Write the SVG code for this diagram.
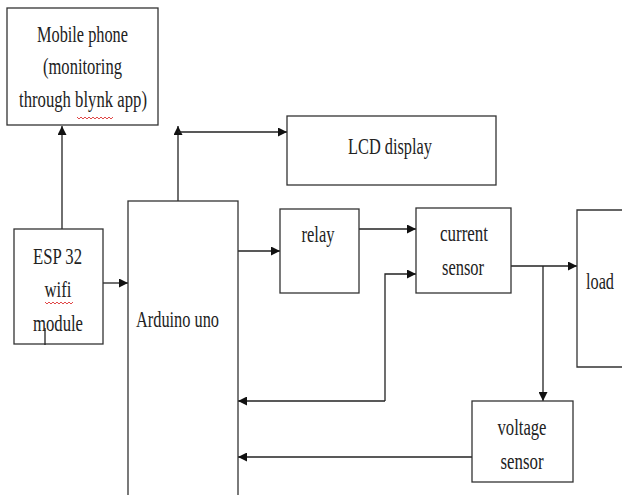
<svg xmlns="http://www.w3.org/2000/svg" width="622" height="495" viewBox="0 0 622 495">
<style>
.box{fill:#fff;stroke:#333;stroke-width:1.3}
.ln{fill:none;stroke:#222;stroke-width:1.3}
.t{font-family:"Liberation Serif","Times New Roman",serif;font-size:24px;fill:#222;text-anchor:middle}
.sq{fill:none;stroke:#d33;stroke-width:0.9}
</style>
<defs>
<marker id="ah" viewBox="0 0 10 10" refX="10" refY="5" markerWidth="9" markerHeight="9" markerUnits="userSpaceOnUse" orient="auto">
<path d="M0,0 L10,5 L0,10 z" fill="#111"/>
</marker>
</defs>
<rect width="622" height="495" fill="#fff"/>
<g id="connectors">
<path class="ln" d="M62,229 V126" marker-end="url(#ah)"/>
<path class="ln" d="M178,201 V126" marker-end="url(#ah)"/>
<path class="ln" d="M178,132 H287" marker-end="url(#ah)"/>
<path class="ln" d="M103,283 H128" marker-end="url(#ah)"/>
<path class="ln" d="M238,251 H280" marker-end="url(#ah)"/>
<path class="ln" d="M359,229 H416" marker-end="url(#ah)"/>
<path class="ln" d="M511,266 H577" marker-end="url(#ah)"/>
<path class="ln" d="M543,266 V401" marker-end="url(#ah)"/>
<path class="ln" d="M385,401 V274 H416" marker-end="url(#ah)"/>
<path class="ln" d="M385,401 H238" marker-end="url(#ah)"/>
<path class="ln" d="M472,457 H238" marker-end="url(#ah)"/>
</g>
<g id="mobile">
<rect class="box" x="7" y="8" width="151" height="117"/>
<text class="t" x="82.5" y="42" textLength="91" lengthAdjust="spacingAndGlyphs">Mobile phone</text>
<text class="t" x="82.5" y="74" textLength="79" lengthAdjust="spacingAndGlyphs">(monitoring</text>
<text class="t" x="83" y="107" textLength="128" lengthAdjust="spacingAndGlyphs">through blynk app)</text>
<path class="sq" d="M77,117 l2,2 l2,-2 l2,2 l2,-2 l2,2 l2,-2 l2,2 l2,-2 l2,2 l2,-2 l2,2 l2,-2 l2,2 l2,-2 l2,2 l2,-2 l2,2 l2,-2"/>
</g>
<g id="lcd">
<rect class="box" x="287" y="116" width="209" height="69"/>
<text class="t" x="390" y="154" textLength="84" lengthAdjust="spacingAndGlyphs">LCD display</text>
</g>
<g id="esp32">
<rect class="box" x="14" y="229" width="89" height="115"/>
<text class="t" x="57.5" y="264" textLength="49" lengthAdjust="spacingAndGlyphs">ESP 32</text>
<text class="t" x="58" y="297" textLength="27" lengthAdjust="spacingAndGlyphs">wifi</text>
<path class="sq" d="M45,302 l2,2 l2,-2 l2,2 l2,-2 l2,2 l2,-2 l2,2 l2,-2 l2,2 l2,-2 l2,2 l2,-2 l2,2 l2,-2"/>
<text class="t" x="58" y="331" textLength="50" lengthAdjust="spacingAndGlyphs">module</text>
<path class="ln" d="M45,328 V345" stroke-width="1"/>
</g>
<g id="arduino">
<rect class="box" x="128" y="201" width="110" height="300"/>
<text class="t" x="177.5" y="327" textLength="83" lengthAdjust="spacingAndGlyphs">Arduino uno</text>
</g>
<g id="relay">
<rect class="box" x="280" y="209" width="79" height="84"/>
<text class="t" x="318" y="242" textLength="33" lengthAdjust="spacingAndGlyphs">relay</text>
</g>
<g id="current-sensor">
<rect class="box" x="416" y="208" width="95" height="85"/>
<text class="t" x="464" y="241" textLength="48" lengthAdjust="spacingAndGlyphs">current</text>
<text class="t" x="463" y="275" textLength="42" lengthAdjust="spacingAndGlyphs">sensor</text>
</g>
<g id="load">
<path class="box" d="M622,210 H577 V367 H622"/>
<text class="t" x="600" y="289" textLength="28" lengthAdjust="spacingAndGlyphs">load</text>
</g>
<g id="voltage-sensor">
<rect class="box" x="472" y="401" width="101" height="81"/>
<text class="t" x="522" y="435" textLength="49" lengthAdjust="spacingAndGlyphs">voltage</text>
<text class="t" x="522" y="469" textLength="43" lengthAdjust="spacingAndGlyphs">sensor</text>
</g>
</svg>
